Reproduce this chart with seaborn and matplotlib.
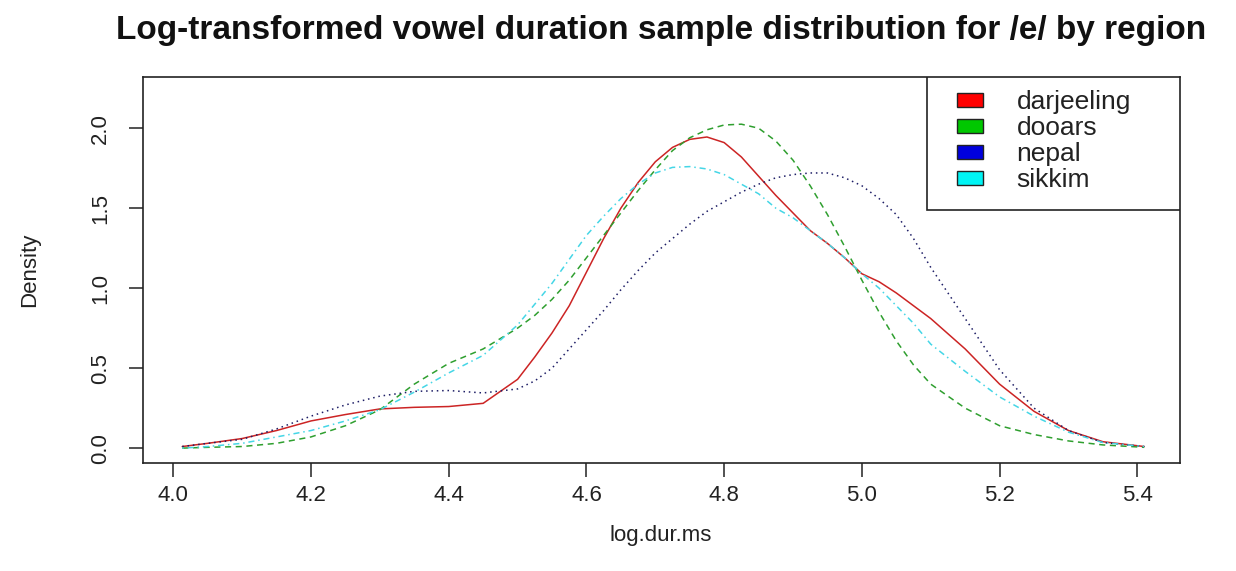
import matplotlib
matplotlib.use("Agg")
import matplotlib.pyplot as plt
from matplotlib.patches import Patch, Rectangle
import seaborn as sns
import pandas as pd

# ---- data ----
log_dur = [4.013, 4.05, 4.10, 4.15, 4.20, 4.25, 4.30, 4.35, 4.40, 4.45, 4.50,
           4.525, 4.55, 4.575, 4.60, 4.625, 4.65, 4.675, 4.70, 4.725, 4.75,
           4.775, 4.80, 4.825, 4.85, 4.875, 4.90, 4.925, 4.95, 4.975, 5.00,
           5.025, 5.05, 5.075, 5.10, 5.15, 5.20, 5.25, 5.30, 5.35, 5.41]

darjeeling = [0.01, 0.03, 0.06, 0.11, 0.17, 0.21, 0.245, 0.255, 0.26, 0.28, 0.43,
              0.57, 0.72, 0.89, 1.10, 1.31, 1.50, 1.66, 1.79, 1.88, 1.93,
              1.945, 1.91, 1.82, 1.70, 1.58, 1.47, 1.36, 1.28, 1.19, 1.09,
              1.04, 0.97, 0.89, 0.81, 0.62, 0.40, 0.23, 0.11, 0.04, 0.01]

dooars = [0.0, 0.005, 0.01, 0.03, 0.07, 0.14, 0.24, 0.40, 0.53, 0.62, 0.75,
          0.83, 0.93, 1.05, 1.19, 1.33, 1.47, 1.61, 1.74, 1.86, 1.94,
          1.99, 2.02, 2.025, 2.00, 1.92, 1.80, 1.64, 1.46, 1.26, 1.05,
          0.85, 0.67, 0.52, 0.40, 0.25, 0.14, 0.085, 0.045, 0.02, 0.005]

nepal = [0.01, 0.03, 0.055, 0.12, 0.20, 0.27, 0.325, 0.355, 0.36, 0.345, 0.37,
         0.42, 0.50, 0.62, 0.74, 0.86, 0.99, 1.11, 1.22, 1.31, 1.40,
         1.48, 1.54, 1.60, 1.65, 1.69, 1.71, 1.72, 1.72, 1.69, 1.64,
         1.56, 1.46, 1.31, 1.13, 0.81, 0.49, 0.25, 0.11, 0.035, 0.01]

sikkim = [0.0, 0.01, 0.03, 0.07, 0.11, 0.17, 0.24, 0.35, 0.47, 0.58, 0.77,
          0.90, 1.03, 1.18, 1.33, 1.45, 1.56, 1.65, 1.72, 1.755, 1.76,
          1.745, 1.71, 1.65, 1.59, 1.50, 1.44, 1.36, 1.28, 1.19, 1.09,
          1.00, 0.89, 0.78, 0.65, 0.48, 0.32, 0.20, 0.10, 0.035, 0.01]

regions = ["darjeeling", "dooars", "nepal", "sikkim"]
x_ticks = [4.0, 4.2, 4.4, 4.6, 4.8, 5.0, 5.2, 5.4]
y_ticks = [0.0, 0.5, 1.0, 1.5, 2.0]

series = {"darjeeling": darjeeling, "dooars": dooars, "nepal": nepal, "sikkim": sikkim}

# ---- styling ----
line_colors = {"darjeeling": "#cc2424", "dooars": "#2f9f2f",
               "nepal": "#1e1e66", "sikkim": "#45d6e6"}
fill_colors = {"darjeeling": "#ff0000", "dooars": "#00c800",
               "nepal": "#0000dd", "sikkim": "#00f4f4"}
line_styles = {"darjeeling": "-", "dooars": (0, (4, 3)),
               "nepal": (0, (1, 2.5)), "sikkim": (0, (1, 2.5, 4, 2.5))}

sns.set_style("white")
plt.rcParams["font.family"] = ["Liberation Sans", "DejaVu Sans"]

fig = plt.figure(figsize=(12.36, 5.71), dpi=100)
ax = fig.add_axes([143 / 1236, 1 - 463 / 571, (1180 - 143) / 1236, (463 - 77) / 571])

for r in regions:
    df = pd.DataFrame({"x": log_dur, "y": series[r]})
    sns.lineplot(data=df, x="x", y="y", ax=ax, color=line_colors[r],
                 linestyle=line_styles[r], linewidth=1.1, legend=False,
                 sort=False, estimator=None)

ax.set_xlim(3.956, 5.462)
ax.set_ylim(-0.093, 2.32)
ax.set_xticks(x_ticks)
ax.set_xticklabels([f"{v:.1f}" for v in x_ticks])
ax.set_yticks(y_ticks)
ax.set_yticklabels([f"{v:.1f}" for v in y_ticks], rotation=90, va="center")
ax.set_xlabel("")
ax.set_ylabel("")
for s in ax.spines.values():
    s.set_visible(True)
    s.set_color("#222222")
    s.set_linewidth(1.2)
ax.tick_params(axis="both", direction="out", length=10, width=1.1,
               color="#222222", labelsize=16, labelcolor="#222222",
               bottom=True, left=True)
ax.tick_params(axis="x", pad=6)
ax.tick_params(axis="y", pad=13)

# legend box (R-style, flush with top-right corner)
ax.add_patch(Rectangle((0.756, 0.655), 0.244, 0.345, transform=ax.transAxes,
                       fill=True, facecolor="white", edgecolor="#222222",
                       linewidth=1.2, zorder=5))
handles = [Patch(facecolor=fill_colors[r], edgecolor="#222222", linewidth=1.0)
           for r in regions]
leg = ax.legend(handles, regions, loc="upper left",
                bbox_to_anchor=((957 - 143) / 1037, 1 - (90 - 77) / 386),
                frameon=False, fontsize=19, handlelength=1.0, handleheight=0.45,
                handletextpad=1.25, labelspacing=0.08, borderpad=0,
                borderaxespad=0)
leg.set_zorder(6)
for t in leg.get_texts():
    t.set_color("#222222")

fig.text(661 / 1236, 1 - 30 / 571,
         "Log-transformed vowel duration sample distribution for /e/ by region",
         ha="center", va="center", fontsize=24, fontweight="bold", color="#111111")
fig.text(30 / 1236, 1 - 270 / 571, "Density", rotation=90, ha="center",
         va="center", fontsize=16, color="#222222")
fig.text(661 / 1236, 1 - 536 / 571, "log.dur.ms", ha="center", va="center",
         fontsize=16, color="#222222")

fig.savefig("out.png", dpi=100, facecolor="white")
